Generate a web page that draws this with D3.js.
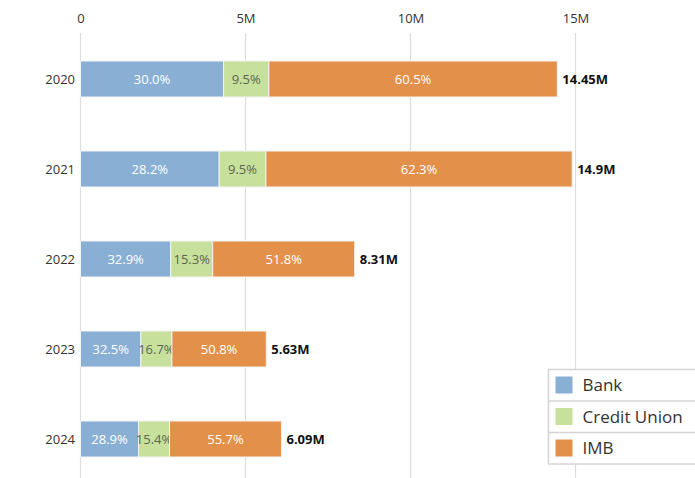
<!DOCTYPE html>
<html><head><meta charset="utf-8">
<script src="https://cdn.jsdelivr.net/npm/d3@7"></script>
<style>body{margin:0;background:#fff}svg{display:block;font-family:"Open Sans",sans-serif}</style>
</head><body><svg id="c" width="695" height="478"></svg>
<script>
const years = ["2020","2021","2022","2023","2024"];
const totals = [14.45, 14.9, 8.31, 5.63, 6.09]; // millions
const series = ["Bank","Credit Union","IMB"];
const bankShare = [30.0, 28.2, 32.9, 32.5, 28.9];
const cuShare = [9.5, 9.5, 15.3, 16.7, 15.4];
const imbShare = [60.5, 62.3, 51.8, 50.8, 55.7];
const tickValues = [0, 5, 10, 15];
const tickLabels = ["0", "5M", "10M", "15M"];
const colors = ["#8aafd5", "#c7e09b", "#e3904b"];
const labelColors = ["#ffffff", "#5b6650", "#ffffff"];

const shares = [bankShare, cuShare, imbShare];
const rows = years.map((y,i)=>{
  const r = {year:y, total:totals[i]};
  series.forEach((s,k)=>{ r[s] = totals[i]*shares[k][i]/100; r[s+"_p"]=shares[k][i]; });
  return r;
});
const stacked = d3.stack().keys(series)(rows);

const svg = d3.select("#c");
const x = d3.scaleLinear().domain([0,15]).range([80.5,575.5]);
const y = d3.scaleBand().domain(years).range([34,484]).paddingInner(0.6).paddingOuter(0.3);

// grid
svg.append("g").selectAll("line").data(tickValues).join("line")
  .attr("x1",d=>x(d)).attr("x2",d=>x(d)).attr("y1",33).attr("y2",478)
  .attr("stroke","#dcdcdc").attr("stroke-width",1.2);

// top axis labels
const ax = svg.append("g").attr("transform","translate(0,18)")
  .call(d3.axisTop(x).tickValues(tickValues).tickFormat((d,i)=>tickLabels[i]).tickSize(0).tickPadding(0));
ax.select(".domain").remove();
ax.selectAll("text").attr("font-size",13).attr("fill","#333").attr("dy","0.35em").attr("font-family","Open Sans");

// y labels
svg.append("g").selectAll("text").data(years).join("text")
  .attr("x",75).attr("y",d=>y(d)+y.bandwidth()/2).attr("dy","0.35em")
  .attr("text-anchor","end").attr("font-size",13).attr("fill","#333").text(d=>d);

// bars
const g = svg.append("g");
stacked.forEach((layer,k)=>{
  g.append("g").selectAll("rect").data(layer).join("rect")
    .attr("x",d=>x(d[0])).attr("width",d=>x(d[1])-x(d[0]))
    .attr("y",d=>y(d.data.year)).attr("height",y.bandwidth())
    .attr("fill",colors[k]).attr("stroke","#f3f3f3").attr("stroke-width",1);
  g.append("g").selectAll("text").data(layer).join("text")
    .attr("x",d=>(x(d[0])+x(d[1]))/2).attr("y",d=>y(d.data.year)+y.bandwidth()/2)
    .attr("dy","0.35em").attr("text-anchor","middle").attr("font-size",13)
    .attr("fill",labelColors[k]).text(d=>d.data[series[k]+"_p"].toFixed(1)+"%");
});

// totals
svg.append("g").selectAll("text").data(rows).join("text")
  .attr("x",d=>x(d.total)+5).attr("y",d=>y(d.year)+y.bandwidth()/2).attr("dy","0.35em")
  .attr("font-size",13).attr("font-weight","bold").attr("fill","#111")
  .text(d=>d.total+"M");

// legend
const lg = svg.append("g").attr("transform","translate(548.5,369.5)");
const rowH = 31.5;
lg.append("rect").attr("width",160).attr("height",rowH*3).attr("fill","#fff").attr("stroke","#d4d4d4").attr("stroke-width",1.5);
series.forEach((s,i)=>{
  if(i>0) lg.append("line").attr("x1",0).attr("x2",160).attr("y1",i*rowH).attr("y2",i*rowH).attr("stroke","#d4d4d4").attr("stroke-width",1.5);
  lg.append("rect").attr("x",7).attr("y",i*rowH+7).attr("width",17).attr("height",17).attr("fill",colors[i]);
  lg.append("text").attr("x",34).attr("y",i*rowH+rowH/2).attr("dy","0.35em").attr("font-size",17).attr("fill","#333").text(s);
});
</script></body></html>
